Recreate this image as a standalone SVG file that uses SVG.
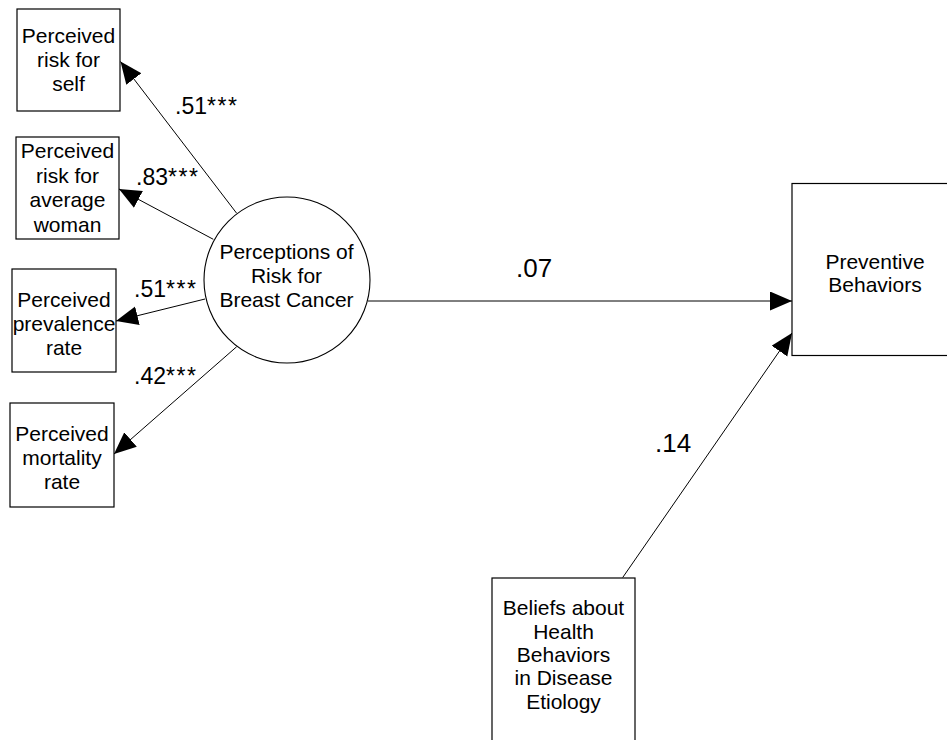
<svg xmlns="http://www.w3.org/2000/svg" width="947" height="740" viewBox="0 0 947 740">
  <style>
    .box { fill: #fff; stroke: #000; stroke-width: 1.2; }
    .lat { fill: #fff; stroke: #000; stroke-width: 1.1; }
    .t { font-family: "Liberation Sans", Arial, sans-serif; font-size: 21px; fill: #000; text-anchor: middle; }
    .coef { font-family: "Liberation Sans", Arial, sans-serif; font-size: 23px; fill: #000; }
    .coefL { font-family: "Liberation Sans", Arial, sans-serif; font-size: 26px; fill: #000; }
    .star { letter-spacing: 1.5px; }
    .path { stroke: #000; stroke-width: 1; fill: none; marker-end: url(#head); }
  </style>
  <defs>
    <marker id="head" markerUnits="userSpaceOnUse" markerWidth="23" markerHeight="20" refX="22" refY="9.5" orient="auto">
      <path d="M0,0 L22,9.5 L0,19 Z" fill="#000"/>
    </marker>
  </defs>
  <rect width="947" height="740" fill="#fff"/>

  <!-- paths between constructs -->
  <g id="connectors">
    <line class="path" x1="236.7" y1="213.3" x2="120.5" y2="61.5"/>
    <line class="path" x1="213.3" y1="239.3" x2="119" y2="189"/>
    <line class="path" x1="205" y1="299" x2="116" y2="321"/>
    <line class="path" x1="236.7" y1="346.7" x2="114" y2="454"/>
    <line class="path" x1="368" y1="301" x2="792" y2="301"/>
    <line class="path" x1="622.7" y1="577.5" x2="792" y2="333"/>
  </g>

  <!-- path coefficients -->
  <g id="coefficients">
    <text class="coef" x="175" y="114">.51<tspan class="star">***</tspan></text>
    <text class="coef" x="136" y="185">.83<tspan class="star">***</tspan></text>
    <text class="coef" x="134" y="297">.51<tspan class="star">***</tspan></text>
    <text class="coef" x="134" y="384">.42<tspan class="star">***</tspan></text>
    <text class="coefL" x="516" y="277">.07</text>
    <text class="coefL" x="655" y="452">.14</text>
  </g>

  <g id="risk-self">
    <rect class="box" x="17" y="9" width="103" height="102"/>
    <text class="t" x="68.5" y="43">Perceived</text>
    <text class="t" x="68.5" y="67">risk for</text>
    <text class="t" x="68.5" y="91">self</text>
  </g>

  <g id="risk-average">
    <rect class="box" x="16" y="137" width="103" height="102"/>
    <text class="t" x="67.5" y="158">Perceived</text>
    <text class="t" x="67.5" y="183">risk for</text>
    <text class="t" x="67.5" y="207">average</text>
    <text class="t" x="67.5" y="232">woman</text>
  </g>

  <g id="prevalence">
    <rect class="box" x="12" y="269" width="104" height="103"/>
    <text class="t" x="64" y="307">Perceived</text>
    <text class="t" x="64" y="331">prevalence</text>
    <text class="t" x="64" y="355">rate</text>
  </g>

  <g id="mortality">
    <rect class="box" x="10" y="403" width="104" height="104"/>
    <text class="t" x="62" y="441">Perceived</text>
    <text class="t" x="62" y="465">mortality</text>
    <text class="t" x="62" y="489">rate</text>
  </g>

  <g id="perceptions">
    <circle class="lat" cx="287" cy="280" r="83"/>
    <text class="t" x="286.5" y="259">Perceptions of</text>
    <text class="t" x="286.5" y="283">Risk for</text>
    <text class="t" x="286.5" y="307">Breast Cancer</text>
  </g>

  <g id="preventive">
    <rect class="box" x="792" y="183.5" width="166" height="172"/>
    <text class="t" x="875" y="269">Preventive</text>
    <text class="t" x="875" y="292">Behaviors</text>
  </g>

  <g id="beliefs">
    <rect class="box" x="492" y="578" width="143" height="180"/>
    <text class="t" x="563.5" y="615">Beliefs about</text>
    <text class="t" x="563.5" y="638.5">Health</text>
    <text class="t" x="563.5" y="662">Behaviors</text>
    <text class="t" x="563.5" y="685">in Disease</text>
    <text class="t" x="563.5" y="708.5">Etiology</text>
  </g>
</svg>
